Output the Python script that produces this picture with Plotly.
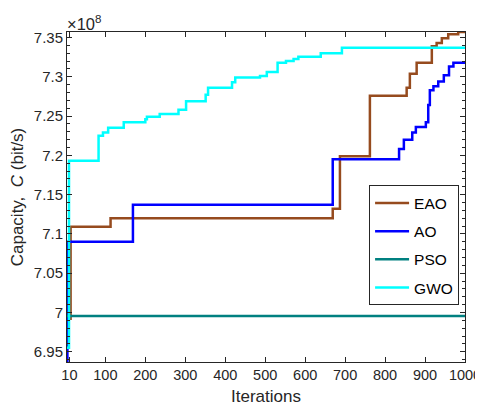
import plotly.graph_objects as go

# Values in units of 1e8 bit/s
eao_x = [4, 12, 13, 113, 669, 687, 762, 854, 862, 879, 917, 929, 942, 958, 983, 1000]
eao_y = [6.992, 6.992, 7.109, 7.120, 7.132, 7.199, 7.276, 7.286, 7.304, 7.318, 7.339, 7.343, 7.349, 7.354, 7.357, 7.357]

ao_x = [4, 5, 169, 669, 835, 847, 868, 877, 902, 908, 912, 921, 933, 947, 960, 971, 979, 1000]
ao_y = [6.938, 7.090, 7.137, 7.195, 7.208, 7.220, 7.229, 7.236, 7.242, 7.264, 7.283, 7.288, 7.294, 7.302, 7.313, 7.318, 7.318, 7.318]

pso_x = [4, 1000]
pso_y = [6.9955, 6.9955]

gwo_x = [4, 9, 83, 94, 107, 146, 200, 204, 236, 283, 302, 351, 357, 417, 425, 487, 504, 531, 552, 571, 583, 639, 692, 1000]
gwo_y = [6.955, 7.193, 7.225, 7.229, 7.235, 7.242, 7.246, 7.249, 7.2525, 7.258, 7.269, 7.277, 7.286, 7.293, 7.299, 7.301, 7.306, 7.318, 7.320, 7.3225, 7.3255, 7.330, 7.337, 7.337]

x_ticks = [10, 100, 200, 300, 400, 500, 600, 700, 800, 900, 1000]
y_ticks = [6.95, 7.0, 7.05, 7.1, 7.15, 7.2, 7.25, 7.3, 7.35]
y_tick_text = ["6.95", "7", "7.05", "7.1", "7.15", "7.2", "7.25", "7.3", "7.35"]

series = [
    ("EAO", eao_x, eao_y, "#964B1E"),
    ("AO", ao_x, ao_y, "#0000FF"),
    ("PSO", pso_x, pso_y, "#008080"),
    ("GWO", gwo_x, gwo_y, "#00FFFF"),
]

FONT = "Liberation Sans, Arial, Helvetica, sans-serif"
AX = "#262626"

fig = go.Figure()
for name, xs, ys, col in series:
    fig.add_trace(go.Scatter(x=xs, y=ys, mode="lines", name=name,
                             line=dict(color=col, width=2.5, shape="hv"),
                             legendgroup=name))

# The page body has an 8px default margin, so the figure is sized 8px smaller
fig.update_layout(
    width=475, height=398,
    margin=dict(l=59, r=18, t=24, b=44, autoexpand=False),
    paper_bgcolor="white", plot_bgcolor="white",
    font=dict(family=FONT, size=14.5, color=AX),
    showlegend=True,
    legend=dict(x=0.759, y=0.535, xanchor="left", yanchor="top",
                bgcolor="white", bordercolor=AX, borderwidth=1,
                font=dict(family=FONT, size=15.5, color="black"),
                tracegroupgap=5, itemwidth=34),
    xaxis=dict(range=[4, 1000], tickvals=x_ticks, ticks="inside", ticklen=5,
               tickcolor=AX, showline=True, linecolor=AX, linewidth=1, mirror="ticks",
               showgrid=False, zeroline=False, automargin=False,
               ticklabeloverflow="allow",
               tickfont=dict(size=14.5, color=AX),
               title=dict(text="Iterations", font=dict(size=17, color=AX), standoff=8)),
    yaxis=dict(range=[6.937, 7.357], tickvals=y_ticks, ticktext=y_tick_text,
               ticks="inside", ticklen=5, tickcolor=AX,
               showline=True, linecolor=AX, linewidth=1, mirror="ticks",
               showgrid=False, zeroline=False, automargin=False,
               minor=dict(ticks="inside", ticklen=3, dtick=0.01, tick0=6.95, tickcolor=AX, showgrid=False),
               tickfont=dict(size=15, color=AX),
               title=dict(text="Capacity,  <i>C</i> (bit/s)", font=dict(size=17, color=AX), standoff=9)),
    annotations=[dict(text="×10<sup>8</sup>", xref="paper", yref="paper", x=-0.005, y=1.0,
                      xanchor="left", yanchor="bottom", showarrow=False, yshift=-3,
                      font=dict(family=FONT, size=16.5, color=AX))],
)

fig.write_html("out.html")
